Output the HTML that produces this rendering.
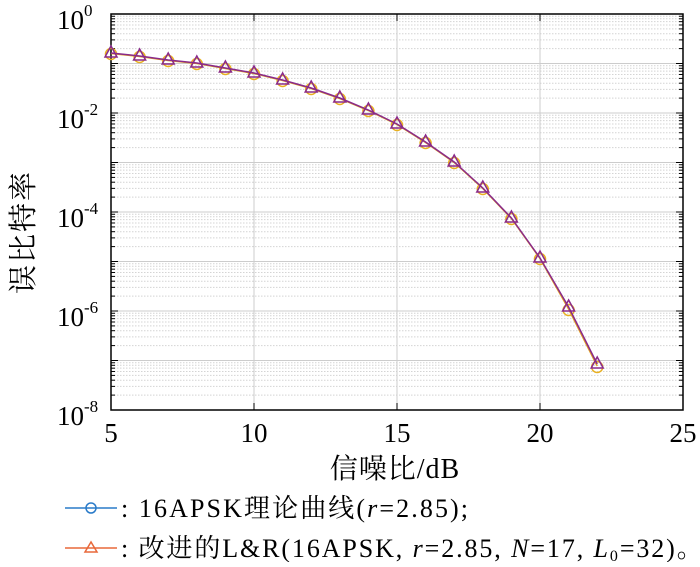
<!DOCTYPE html>
<html><head><meta charset="utf-8"><style>
body{margin:0;background:#fff;width:700px;height:562px;overflow:hidden}
svg text{font-family:"Liberation Serif","Noto Serif CJK SC",serif;fill:#000}
</style></head><body>
<svg id="s" width="700" height="562" xmlns="http://www.w3.org/2000/svg">
<rect x="0" y="0" width="700" height="562" fill="#fff"/>
<g id="grid"></g>
<rect x="111" y="14" width="572" height="396" fill="none" stroke="#000" stroke-width="1.5"/>
<g id="ticks"></g>
<g font-size="27">
<text x="111" y="442" text-anchor="middle">5</text>
<text x="254" y="442" text-anchor="middle">10</text>
<text x="397" y="442" text-anchor="middle">15</text>
<text x="540" y="442" text-anchor="middle">20</text>
<text x="683" y="442" text-anchor="middle">25</text>
<text x="57" y="29">10<tspan font-size="17" dy="-13">0</tspan></text>
<text x="57" y="128">10<tspan font-size="17" dy="-13">-2</tspan></text>
<text x="57" y="227">10<tspan font-size="17" dy="-13">-4</tspan></text>
<text x="57" y="326">10<tspan font-size="17" dy="-13">-6</tspan></text>
<text x="57" y="425">10<tspan font-size="17" dy="-13">-8</tspan></text>
</g>
<text x="395" y="478" font-size="28" text-anchor="middle" letter-spacing="1">信噪比/dB</text>
<text transform="translate(33,232) rotate(-90)" font-size="29" text-anchor="middle" letter-spacing="2">误比特率</text>
<g id="series"></g>
<line x1="65" y1="508" x2="117" y2="508" stroke="#2a7bc9" stroke-width="1.5"/>
<circle cx="91" cy="508" r="5" fill="none" stroke="#2a7bc9" stroke-width="1.5"/>
<line x1="65" y1="548" x2="117" y2="548" stroke="#e8683a" stroke-width="1.5"/>
<polygon points="91,542 85,552 97,552" fill="none" stroke="#e8683a" stroke-width="1.5"/>
<text x="121" y="517" font-size="26" letter-spacing="2.1">: 16APSK理论曲线(<tspan font-style="italic">r</tspan>=2.85);</text>
<text x="121" y="557" font-size="26" letter-spacing="1.9">: 改进的L&amp;R(16APSK, <tspan font-style="italic">r</tspan>=2.85, <tspan font-style="italic">N</tspan>=17, <tspan font-style="italic">L</tspan><tspan font-size="16" dy="4">0</tspan><tspan dy="-4">=32)。</tspan></text>
</svg>
<script>
var ns="http://www.w3.org/2000/svg";
function el(p,t,a){var e=document.createElementNS(ns,t);for(var k in a)e.setAttribute(k,a[k]);p.appendChild(e);return e;}
var g=document.getElementById('grid'),tk=document.getElementById('ticks'),se=document.getElementById('series');
function X(v){return 111+(v-5)*28.6;}
var D=49.5;
for(var d=0;d<8;d++){
 var y0=14+d*D;
 if(d>0){el(g,'line',{x1:111,x2:683,y1:y0,y2:y0,stroke:'#ccc','stroke-width':1});}
 for(var m=2;m<=9;m++){var y=14+(d+1)*D-Math.log10(m)*D;
  el(g,'line',{x1:111,x2:683,y1:y,y2:y,stroke:'#d4d4d4','stroke-width':1,'stroke-dasharray':'1.5,1.5'});
  el(tk,'line',{x1:111,x2:115,y1:y,y2:y,stroke:'#000'});el(tk,'line',{x1:679,x2:683,y1:y,y2:y,stroke:'#000'});}
 el(tk,'line',{x1:111,x2:118,y1:y0,y2:y0,stroke:'#000'});el(tk,'line',{x1:676,x2:683,y1:y0,y2:y0,stroke:'#000'});
}
for(var v=10;v<25;v+=5){var x=X(v);el(g,'line',{x1:x,x2:x,y1:14,y2:410,stroke:'#ccc'});
 el(tk,'line',{x1:x,x2:x,y1:14,y2:21,stroke:'#000'});el(tk,'line',{x1:x,x2:x,y1:403,y2:410,stroke:'#000'});}
var ys=[53,56,60,63,68,73,80,88,98,110,124,142,162,188,218,258,307,364];
var pc=[],pt=[];
for(var i=0;i<ys.length;i++){var x=X(5+i);var yc=ys[i]+(i>15?2:0.5);pc.push(x+','+yc);pt.push(x+','+ys[i]);}
el(se,'polyline',{points:pc.join(' '),fill:'none',stroke:'#e0a020','stroke-width':1.5});
for(var i=0;i<ys.length;i++){var x=X(5+i);el(se,'circle',{cx:x,cy:ys[i]+(i>15?3:1),r:5.5,fill:'none',stroke:'#e8b020','stroke-width':1.5});}
el(se,'polyline',{points:pt.join(' '),fill:'none',stroke:'#8a2a8a','stroke-width':1.5});
for(var i=0;i<ys.length;i++){var x=X(5+i),y=ys[i];el(se,'polygon',{points:x+','+(y-7)+' '+(x-6)+','+(y+4)+' '+(x+6)+','+(y+4),fill:'none',stroke:'#8a2a8a','stroke-width':1.5});}
</script>
</body></html>
